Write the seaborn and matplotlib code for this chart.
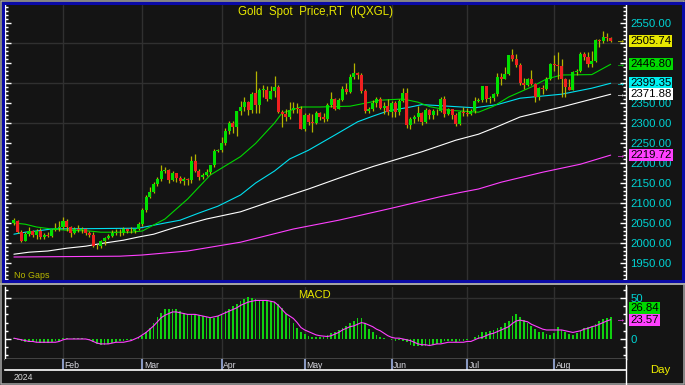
import numpy as np
import matplotlib
matplotlib.use("Agg")
import matplotlib.pyplot as plt
from matplotlib.ticker import MultipleLocator, FuncFormatter, FormatStrFormatter
from matplotlib.transforms import blended_transform_factory
from matplotlib.patches import Rectangle
from matplotlib.lines import Line2D
import seaborn as sns

# daily candles, weekdays 15 Jan 2024 .. 22 Aug 2024 (day 0 = 15 Jan)
open_ = [2050, 2056, 2028, 2006, 2023, 2029, 2021, 2029, 2015, 2021, 2018, 2033, 2037,
         2039, 2056, 2040, 2025, 2035, 2033, 2034, 2024, 2020, 1993, 1992, 2004, 2013, 2017, 2025, 2026, 2024, 2035, 2031, 2029, 2034,
         2048, 2083, 2114, 2128, 2148, 2159, 2179, 2182, 2158, 2174, 2162, 2155, 2160, 2157, 2205, 2181, 2165, 2171, 2178, 2194, 2230,
         2233, 2251, 2280, 2300, 2290, 2330, 2339, 2352, 2333, 2375, 2344, 2383, 2383, 2361, 2379, 2391, 2327, 2322, 2316, 2332, 2337, 2335,
         2286, 2320, 2303, 2301, 2324, 2314, 2309, 2346, 2360, 2336, 2358, 2386, 2377, 2415, 2425, 2421, 2379, 2329, 2334, 2351, 2361, 2338, 2343,
         2327, 2350, 2327, 2355, 2376, 2294, 2311, 2316, 2324, 2303, 2333, 2319, 2329, 2329, 2360, 2322, 2334, 2319, 2298, 2327,
         2326, 2323, 2330, 2356, 2357, 2392, 2359, 2363, 2372, 2415, 2411, 2422, 2469, 2459, 2445, 2400, 2396, 2409, 2397, 2364, 2387, 2384, 2410,
         2447, 2446, 2442, 2409, 2390, 2383, 2427, 2431, 2472, 2465, 2447, 2456, 2507, 2504, 2514, 2512]
high = [2062, 2058, 2032, 2027, 2040, 2033, 2034, 2037, 2026, 2027, 2036, 2050, 2055,
        2066, 2060, 2043, 2041, 2044, 2041, 2038, 2030, 2027, 1997, 2008, 2016, 2022, 2032, 2034, 2035, 2041, 2038, 2040, 2036, 2052,
        2088, 2119, 2141, 2152, 2165, 2195, 2189, 2184, 2179, 2175, 2168, 2165, 2163, 2217, 2223, 2184, 2176, 2184, 2196, 2236, 2234,
        2265, 2288, 2305, 2305, 2330, 2354, 2365, 2355, 2378, 2431, 2387, 2395, 2393, 2393, 2417, 2395, 2333, 2335, 2352, 2352, 2349, 2342,
        2326, 2326, 2323, 2331, 2327, 2324, 2351, 2378, 2363, 2362, 2392, 2400, 2422, 2450, 2428, 2424, 2385, 2340, 2357, 2364, 2364, 2352, 2360,
        2354, 2354, 2359, 2388, 2388, 2316, 2320, 2342, 2327, 2338, 2335, 2335, 2335, 2365, 2368, 2337, 2335, 2325, 2330, 2339,
        2338, 2335, 2365, 2363, 2393, 2393, 2368, 2376, 2425, 2425, 2440, 2470, 2485, 2472, 2451, 2412, 2412, 2432, 2400, 2390, 2396, 2414, 2451,
        2470, 2477, 2461, 2413, 2410, 2431, 2435, 2477, 2477, 2477, 2480, 2509, 2510, 2531, 2526, 2516]
low = [2046, 2025, 2002, 2004, 2018, 2016, 2011, 2010, 2009, 2014, 2015, 2030, 2030,
       2034, 2030, 2015, 2022, 2028, 2024, 2021, 2016, 1990, 1984, 1988, 1995, 2011, 2015, 2020, 2018, 2020, 2025, 2026, 2025, 2032,
       2042, 2078, 2112, 2124, 2142, 2155, 2176, 2150, 2156, 2152, 2150, 2146, 2145, 2150, 2177, 2157, 2160, 2167, 2172, 2190, 2228,
       2228, 2245, 2272, 2275, 2267, 2320, 2330, 2320, 2325, 2326, 2324, 2365, 2355, 2359, 2365, 2326, 2291, 2306, 2309, 2325, 2325, 2285,
       2281, 2295, 2277, 2298, 2308, 2303, 2306, 2339, 2333, 2334, 2355, 2373, 2375, 2410, 2410, 2374, 2326, 2325, 2330, 2340, 2335, 2323, 2319,
       2314, 2316, 2320, 2352, 2287, 2286, 2299, 2305, 2296, 2299, 2311, 2311, 2321, 2327, 2316, 2320, 2309, 2293, 2295, 2318,
       2318, 2319, 2325, 2352, 2353, 2353, 2350, 2355, 2368, 2395, 2409, 2419, 2455, 2440, 2394, 2385, 2392, 2395, 2353, 2358, 2373, 2382, 2408,
       2430, 2410, 2364, 2365, 2382, 2382, 2419, 2428, 2458, 2440, 2440, 2452, 2490, 2500, 2504, 2503]
close = [2057, 2028, 2006, 2023, 2029, 2021, 2029, 2015, 2021, 2018, 2033, 2037, 2039,
         2056, 2040, 2025, 2035, 2033, 2034, 2024, 2020, 1993, 1992, 2004, 2013, 2017, 2025, 2026, 2024, 2035, 2031, 2029, 2034, 2048,
         2083, 2114, 2128, 2148, 2159, 2179, 2182, 2158, 2174, 2162, 2155, 2160, 2157, 2205, 2181, 2165, 2171, 2178, 2194, 2230, 2233,
         2251, 2280, 2300, 2290, 2330, 2339, 2352, 2333, 2372, 2344, 2383, 2383, 2361, 2379, 2391, 2327, 2322, 2316, 2332, 2337, 2335, 2286,
         2320, 2303, 2301, 2324, 2314, 2309, 2346, 2360, 2336, 2358, 2386, 2377, 2415, 2425, 2421, 2379, 2329, 2334, 2351, 2361, 2338, 2343, 2327,
         2350, 2327, 2355, 2376, 2294, 2311, 2316, 2324, 2303, 2333, 2319, 2329, 2329, 2360, 2322, 2334, 2319, 2298, 2327, 2326,
         2323, 2330, 2356, 2357, 2392, 2359, 2363, 2372, 2415, 2411, 2422, 2469, 2459, 2445, 2400, 2396, 2409, 2397, 2364, 2387, 2384, 2410, 2447,
         2446, 2442, 2409, 2390, 2383, 2427, 2431, 2472, 2465, 2447, 2456, 2507, 2504, 2514, 2512, 2505.74]

# moving averages (day index, value)
ma20_day = [0, 3, 6, 10, 14, 20, 23, 31, 34, 40, 46, 52, 60, 64, 69, 71, 76, 81, 89, 97, 103, 107, 110, 115, 123, 127, 131, 137, 141, 145, 153, 158]
ma20 = [2050, 2047, 2040, 2035, 2032, 2030, 2027, 2027, 2030, 2060, 2110, 2170, 2216, 2249, 2300, 2325, 2340, 2340, 2342, 2357, 2360, 2352,
        2341, 2332, 2327, 2342, 2365, 2390, 2410, 2420, 2421, 2446.80]
ma50_day = [0, 3, 6, 10, 33, 40, 44, 49, 54, 60, 64, 69, 73, 78, 85, 91, 95, 99, 105, 108, 115, 122, 128, 134, 145, 153, 158]
ma50 = [2022, 2027, 2030, 2035, 2037, 2050, 2057, 2075, 2092, 2120, 2150, 2180, 2210, 2232, 2270, 2303, 2317, 2330, 2340, 2346, 2342, 2338,
        2346, 2362, 2372, 2387, 2399.35]
ma100_day = [0, 4, 9, 14, 19, 24, 29, 33, 37, 42, 51, 60, 69, 78, 86, 95, 108, 117, 123, 127, 134, 145, 158]
ma100 = [1972, 1977, 1980, 1987, 1992, 2000, 2007, 2015, 2022, 2037, 2060, 2078, 2107, 2135, 2162, 2191, 2228, 2257, 2272, 2287, 2315, 2340,
         2371.88]
ma200_day = [0, 28, 34, 46, 60, 74, 86, 100, 113, 118, 123, 129, 140, 150, 158]
ma200 = [1965, 1967, 1970, 1980, 2002, 2035, 2057, 2087, 2116, 2126, 2135, 2152, 2177, 2197, 2219.72]

macd = [1, -1, -3, -4, -4, -4, -4, -5, -5, -5, -4, -3, -2,
        1, 1, 0, 1, 1, 1, 0, -1, -4, -6, -7, -7, -6, -5, -4, -3, -2, -1, -1, 0, 2,
        4, 9, 14, 20, 27, 32, 36, 37, 37, 36, 34, 32, 31, 31, 30, 29, 28, 27, 26, 26, 28,
        31, 34, 37, 40, 43, 46, 49, 51, 50, 49, 48, 48, 47, 46, 45, 43, 38, 31, 25, 19, 14, 9,
        6, 4, 3, 2, 2, 3, 5, 7, 9, 11, 13, 16, 19, 22, 25, 26, 20, 12, 8, 5, 3, 1, 0,
        -1, -3, -1, -2, -4, -7, -8, -8, -9, -9, -8, -7, -6, -5, -3, -3, -3, -4, -3, -2,
        -1, 0, 3, 5, 8, 9, 10, 11, 13, 15, 19, 22, 28, 30, 27, 23, 20, 16, 12, 9, 8, 6, 5,
        7, 15, 11, 8, 6, 5, 7, 10, 13, 15, 15, 18, 22, 24, 26, 26.84]
macd_signal = [1, 0, -1, -2, -3, -3, -4, -4, -4, -4, -4, -4, -3,
               -1, 0, 0, 0, 0, 0, 0, -1, -3, -5, -6, -6, -6, -5, -4, -4, -4, -3, -2, 0, 2,
               5, 8, 12, 16, 21, 26, 29, 31, 33, 33, 32, 31, 30, 30, 30, 29, 28, 27, 26, 27, 28,
               30, 32, 34, 36, 38, 41, 43, 45, 46, 47, 47, 47, 47, 46, 45, 41, 36, 31, 28, 25, 20, 14,
               11, 9, 7, 5, 4, 3.5, 3, 4, 6, 8, 11, 13, 15, 16, 18, 20, 19, 17, 15, 12, 10, 7, 4,
               2, 1, 1, 0, -1, -2, -4, -6, -7, -7, -8, -7, -6, -6, -5, -4, -4, -4, -4, -4,
               -3, -3, -1, 1, 2, 4, 6, 7, 9, 11, 13, 15, 19, 22, 23, 22, 21, 18, 16, 14, 12, 11, 11,
               11, 11, 11, 10, 9, 8, 9, 10, 12, 13, 15, 16, 18, 20, 22, 23.57]

month_names = ["Feb", "Mar", "Apr", "May", "Jun", "Jul", "Aug"]
month_start = [13, 34, 55, 77, 100, 120, 143]

# colours
BG = "#141414"
GRID = "#303030"
CYAN = "#00d4d4"
UP = "#00e000"
DOWN = "#f02020"
WICK = "#b4b400"
GREEN_MA = "#00d800"
MAGENTA = "#ff40ff"
YELLOW = "#e8e800"
BLUE = "#0a0aa8"

sns.set_theme(style="dark", rc={"axes.facecolor": BG, "figure.facecolor": BG})
plt.rcParams["font.family"] = ["Liberation Sans", "DejaVu Sans"]

W, H = 685, 385
fig = plt.figure(figsize=(W / 100, H / 100), dpi=100, facecolor=BG)


def px_axes(x0, y0, x1, y1):
    return fig.add_axes([x0 / W, 1 - y1 / H, (x1 - x0) / W, (y1 - y0) / H])


def fig_text(x, y, s, **kw):
    fig.text(x / W, 1 - y / H, s, **kw)


def fig_line(x0, y0, x1, y1, **kw):
    fig.add_artist(Line2D([x0 / W, x1 / W], [1 - y0 / H, 1 - y1 / H], transform=fig.transFigure, **kw))


# day 0 sits at pixel 13.9, one weekday = 3.777 px
x_lim = ((5 - 13.9) / 3.777, (626 - 13.9) / 3.777)
days = np.arange(len(close))
o = np.array(open_)
c = np.array(close)

price_tags = [(close[-1], YELLOW), (ma20[-1], GREEN_MA), (ma50[-1], "#00f0f0"),
              (ma100[-1], "white"), (ma200[-1], MAGENTA)]


def price_label(v, pos):
    # the value tags sit on top of the scale and hide the labels beneath them
    if any(abs(v - t) < 8 for t, _ in price_tags):
        return ""
    return f"{v:.2f}"


# ---------------- price panel ----------------
ax = px_axes(5, 5, 626, 280)
ax.set_facecolor(BG)
ax.set_xlim(*x_lim)
ax.set_ylim(1907.5, 2595)
for lvl in np.arange(2000, 2501, 100):
    ax.axhline(lvl, color=GRID, lw=1, zorder=0)
for m in month_start:
    ax.axvline(m, color=GRID, lw=1, zorder=0)

sns.lineplot(x=ma200_day, y=ma200, ax=ax, color=MAGENTA, lw=0.8, legend=False, zorder=2)
sns.lineplot(x=ma100_day, y=ma100, ax=ax, color="white", lw=0.8, legend=False, zorder=2)
sns.lineplot(x=ma50_day, y=ma50, ax=ax, color="#00e0f0", lw=0.8, legend=False, zorder=2)
sns.lineplot(x=ma20_day, y=ma20, ax=ax, color=GREEN_MA, lw=0.8, legend=False, zorder=2)

ax.vlines(days, low, high, color=WICK, lw=0.9, zorder=3)
body = np.maximum(np.abs(c - o), 1.5)
ax.bar(days, body, bottom=np.minimum(o, c), width=0.8,
       color=np.where(c >= o, UP, DOWN), linewidth=0, zorder=4)

ax.yaxis.set_major_locator(MultipleLocator(50))
ax.yaxis.set_minor_locator(MultipleLocator(10))
ax.yaxis.set_major_formatter(FuncFormatter(price_label))
ax.tick_params(axis="y", which="both", direction="in", left=True, right=True,
               labelleft=False, labelright=True, color="white", labelcolor=CYAN,
               labelsize=8.2, pad=3, width=1)
ax.tick_params(axis="y", which="major", length=4.5)
ax.tick_params(axis="y", which="minor", length=2)
ax.tick_params(axis="x", which="both", bottom=False, labelbottom=False)
ax.grid(False)
ax.set_xlabel("")
ax.set_ylabel("")
for side in ["top", "bottom"]:
    ax.spines[side].set_visible(False)
for side in ["left", "right"]:
    ax.spines[side].set_color("white")
    ax.spines[side].set_linewidth(1)

tr = blended_transform_factory(ax.transAxes, ax.transData)
tag_x = (630 - 5) / 621
arrow_x = (615 - 5) / 621
for val, col in price_tags:
    ax.text(tag_x, val, f"{val:.2f}", transform=tr, ha="left", va="center", fontsize=8.2,
            color="black", clip_on=False, zorder=10,
            bbox=dict(boxstyle="square,pad=0.1", fc=col, ec="none"))
    ax.text(arrow_x, val, "\u2192", transform=tr, ha="left", va="center", fontsize=7,
            color=col, clip_on=False, zorder=10)

# ---------------- MACD panel ----------------
ax2 = px_axes(5, 287, 626, 359)
ax2.set_facecolor(BG)
ax2.set_xlim(*x_lim)
ax2.set_ylim(-24.4, 63.4)
ax2.axhline(50, color=GRID, lw=1, zorder=0)
for m in month_start:
    ax2.axvline(m, color=GRID, lw=1, zorder=0)
ax2.bar(days, macd, width=0.45, color="#10d010", linewidth=0, zorder=2)
sns.lineplot(x=days, y=macd_signal, ax=ax2, color=MAGENTA, lw=0.8, legend=False, zorder=3)
ax2.yaxis.set_major_locator(MultipleLocator(50))
ax2.yaxis.set_minor_locator(MultipleLocator(10))
ax2.yaxis.set_major_formatter(FormatStrFormatter("%d"))
ax2.tick_params(axis="y", which="both", direction="in", left=True, right=True,
                labelleft=False, labelright=True, color="white", labelcolor=CYAN,
                labelsize=8.2, pad=3, width=1)
ax2.tick_params(axis="y", which="major", length=4.5)
ax2.tick_params(axis="y", which="minor", length=2)
ax2.tick_params(axis="x", which="both", bottom=False, labelbottom=False)
ax2.grid(False)
ax2.set_xlabel("")
ax2.set_ylabel("")
ax2.spines["top"].set_visible(False)
for side in ["left", "right", "bottom"]:
    ax2.spines[side].set_color("white")
    ax2.spines[side].set_linewidth(1)

tr2 = blended_transform_factory(ax2.transAxes, ax2.transData)
ax2.annotate(f"{macd[-1]:.2f}", xy=(tag_x, macd[-1]), xycoords=tr2, xytext=(0, 6.5),
             textcoords="offset points", ha="left", va="center", fontsize=8.2, color="black",
             annotation_clip=False, zorder=10,
             bbox=dict(boxstyle="square,pad=0.1", fc=GREEN_MA, ec="none"))
ax2.text(tag_x, macd_signal[-1], f"{macd_signal[-1]:.2f}", transform=tr2, ha="left", va="center",
         fontsize=8.2, color="black", clip_on=False, zorder=10,
         bbox=dict(boxstyle="square,pad=0.1", fc=MAGENTA, ec="none"))
ax2.text(arrow_x, macd_signal[-1], "\u2192", transform=tr2, ha="left", va="center", fontsize=7,
         color=MAGENTA, clip_on=False, zorder=10)

# ---------------- date strip ----------------
ax3 = px_axes(5, 359, 626, 370)
ax3.set_facecolor(BG)
ax3.set_xlim(*x_lim)
ax3.set_ylim(0, 1)
ax3.set_xticks([])
ax3.set_yticks([])
ax3.grid(False)
for side in ["top", "left", "right"]:
    ax3.spines[side].set_visible(False)
ax3.spines["bottom"].set_color("white")
ax3.spines["bottom"].set_linewidth(1.2)
for m, name in zip(month_start, month_names):
    ax3.axvline(m, color="#8898c0", lw=1.5)
    ax3.text(m + 0.4, 0.42, name, ha="left", va="center", fontsize=6.2, color="#d8d8e0")

# ---------------- frame and captions ----------------
fig.add_artist(Rectangle((0.75 / W, 0.75 / H), (W - 1.5) / W, (H - 1.5) / H, transform=fig.transFigure,
                         fill=False, ec="#a8a8a8", lw=1.1))
fig.add_artist(Rectangle((3 / W, 1 - 281 / H), 679.5 / W, 278 / H, transform=fig.transFigure,
                         fill=False, ec=BLUE, lw=2.2))
fig_line(0, 284, W, 284, color="#a8a8a8", lw=1.4)
fig_line(626, 285, 626, H, color="white", lw=1)

fig_text(315, 12, "Gold  Spot  Price,RT  (IQXGL)", ha="center", va="center", fontsize=8.3, color=YELLOW)
fig_text(14, 275, "No Gaps", ha="left", va="center", fontsize=6.4, color="#b8b800")
fig_text(314, 295, "MACD", ha="center", va="center", fontsize=8, color=YELLOW)
fig_text(660, 370, "Day", ha="center", va="center", fontsize=8.2, color="#f0f000")
fig_text(14, 377, "2024", ha="left", va="center", fontsize=6.3, color="#d8d8d8")

fig.savefig("out.png", dpi=100, facecolor=BG)
